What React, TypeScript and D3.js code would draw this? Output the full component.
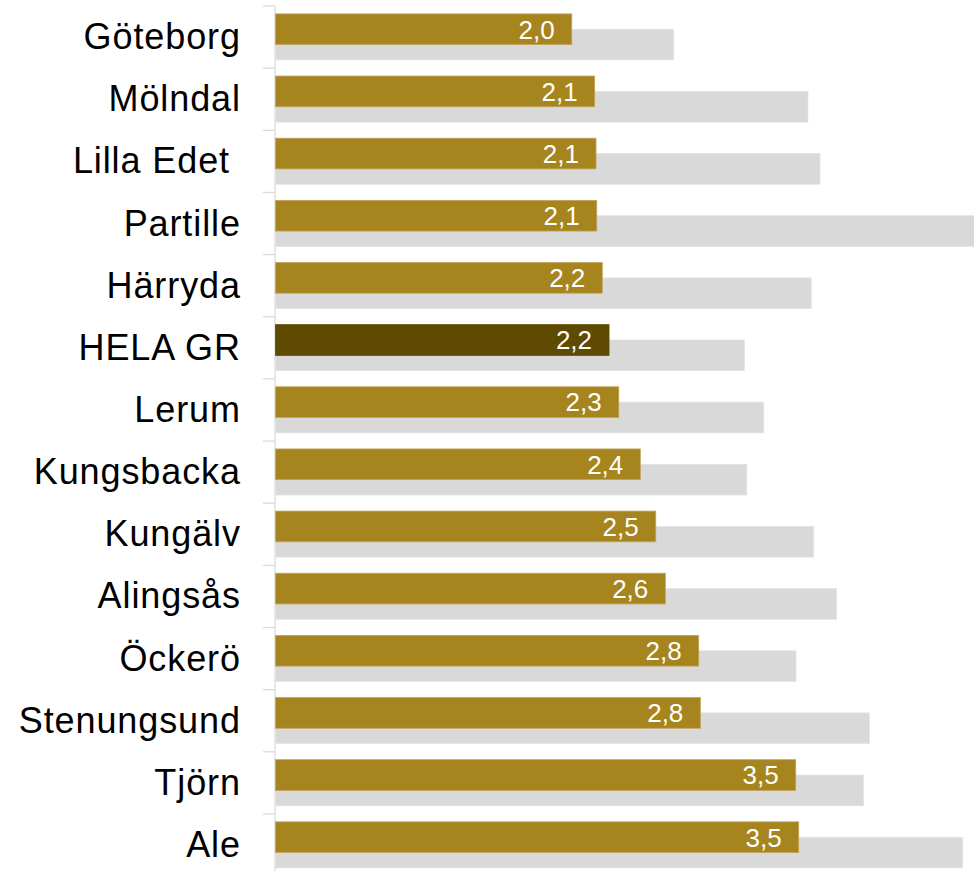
import React from "react";
import * as d3 from "d3";

const categories: string[] = [
  "Göteborg",
  "Mölndal",
  "Lilla Edet ",
  "Partille",
  "Härryda",
  "HELA GR",
  "Lerum",
  "Kungsbacka",
  "Kungälv",
  "Alingsås",
  "Öckerö",
  "Stenungsund",
  "Tjörn",
  "Ale",
];

const goldValues: number[] = [
  1.979, 2.132, 2.141, 2.146, 2.183, 2.228, 2.293, 2.437, 2.54, 2.604, 2.827,
  2.838, 3.475, 3.495,
];

const grayValues: number[] = [
  2.66, 3.557, 3.637, 4.72, 3.579, 3.134, 3.261, 3.148, 3.595, 3.749, 3.477,
  3.967, 3.929, 4.591,
];

const highlight = "HELA GR";

const W = 974;
const H = 871;

export default function App() {
  const x = d3.scaleLinear().domain([0, 4.666]).range([275.5, 974]);
  const y = d3
    .scaleBand<string>()
    .domain(categories)
    .range([6, 6 + 14 * 62.15])
    .padding(0);
  const band = y.bandwidth();
  const barH = 30.7;
  const goldOff = 7.9;
  const grayOff = goldOff + barH / 2;
  const fmt = (v: number) => d3.format(".1f")(v).replace(".", ",");
  const tickYs = categories.map((c) => y(c)!);

  return (
    <svg
      width={W}
      height={H}
      style={{ position: "absolute", left: 0, top: 0, background: "#fff" }}
    >
      {/* axis */}
      <line x1={275} x2={275} y1={6} y2={H} stroke="#D9D9D9" strokeWidth={1.2} />
      {tickYs.map((t, i) => (
        <line key={"t" + i} x1={263} x2={275} y1={t} y2={t} stroke="#D9D9D9" strokeWidth={1.2} />
      ))}
      {/* gray bars */}
      {categories.map((c, i) => (
        <rect
          key={"g" + i}
          x={x(0)}
          y={y(c)! + grayOff}
          width={Math.min(x(grayValues[i]), W + 5) - x(0)}
          height={barH}
          fill="#D9D9D9"
          stroke="#E4E4E4"
          strokeWidth={0.8}
        />
      ))}
      {/* gold bars */}
      {categories.map((c, i) => (
        <rect
          key={"b" + i}
          x={x(0)}
          y={y(c)! + goldOff}
          width={x(goldValues[i]) - x(0)}
          height={barH}
          fill={c === highlight ? "#5E4A00" : "#A6841E"}
          stroke={c === highlight ? "#5E4A00" : "#C2A35A"}
          strokeWidth={0.8}
        />
      ))}
      {/* value labels */}
      {categories.map((c, i) => (
        <text
          key={"v" + i}
          x={x(goldValues[i]) - 17}
          y={y(c)! + goldOff + barH / 2 + 9.3}
          textAnchor="end"
          fill="#FFFFFF"
          fontFamily="'Liberation Sans', Arial, sans-serif"
          fontSize={26}
        >
          {fmt(goldValues[i])}
        </text>
      ))}
      {/* category labels */}
      {categories.map((c, i) => (
        <text
          key={"c" + i}
          x={240.9}
          y={y(c)! + band / 2 + 12}
          textAnchor="end"
          fill="#000"
          fontFamily="'Liberation Sans', Arial, sans-serif"
          fontSize={36}
          letterSpacing={0.9}
          style={{ whiteSpace: "pre" }}
          xmlSpace="preserve"
        >
          {c}
        </text>
      ))}
    </svg>
  );
}
